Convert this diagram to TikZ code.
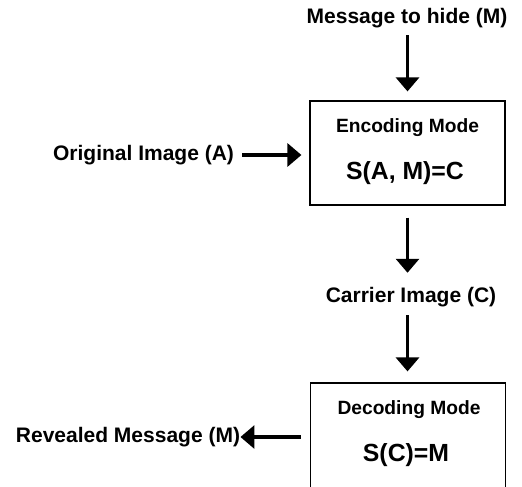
\documentclass[tikz,border=0pt]{standalone}
\usepackage{fontspec}
\setmainfont{Liberation Sans}
\usetikzlibrary{arrows.meta}

\begin{document}
\begin{tikzpicture}[x=0.5pt,y=-0.5pt,
    flowtext/.style={font=\fontsize{10.5}{12}\selectfont\bfseries,inner sep=0pt},
    modetitle/.style={font=\fontsize{9.6}{11}\selectfont\bfseries,inner sep=0pt},
    modeformula/.style={font=\fontsize{12.4}{14}\selectfont\bfseries,inner sep=0pt},
    modebox/.style={draw,line width=0.6pt,minimum width=97.5pt,minimum height=52pt,inner sep=0pt},
    flowarrow/.style={-{Triangle[width=11.5pt,length=7pt]},line width=1.6pt}]
    \useasboundingbox (0,0) rectangle (522,486);
    \node[flowtext] (msg) at (407,18) {Message to hide (M)};
    \node[modebox] (enc) at (407.5,153) {};
    \node[modetitle] (enctitle) at (407.5,128) {Encoding Mode};
    \node[modeformula] (encformula) at (405,173) {S(A, M)=C};
    \node[flowtext] (orig) at (143.5,155) {Original Image (A)};
    \node[flowtext] (carrier) at (411,297) {Carrier Image (C)};
    \node[modebox,minimum height=56pt] (dec) at (408,439) {};
    \node[modetitle] (dectitle) at (409,410) {Decoding Mode};
    \node[modeformula] (decformula) at (406,455) {S(C)=M};
    \node[flowtext] (rev) at (128,437) {Revealed Message (M)};
    \coordinate (below) at (carrier.south -| enc.south);
    \draw[flowarrow,shorten <=3.5pt,shorten >=4.5pt] (msg.south -| enc.north) -- (enc.north);
    \draw[flowarrow,shorten <=4pt,shorten >=4pt] (orig) -- (orig -| enc.west);
    \draw[flowarrow,shorten <=6pt,shorten >=7pt] (enc.south) -- (carrier.north -| enc.south);
    \draw[flowarrow,shorten <=4pt,shorten >=5.5pt] (below) -- (below |- dec.north);
    \draw[flowarrow,shorten <=4.5pt] (rev -| dec.west) -- (rev);
\end{tikzpicture}
\end{document}
